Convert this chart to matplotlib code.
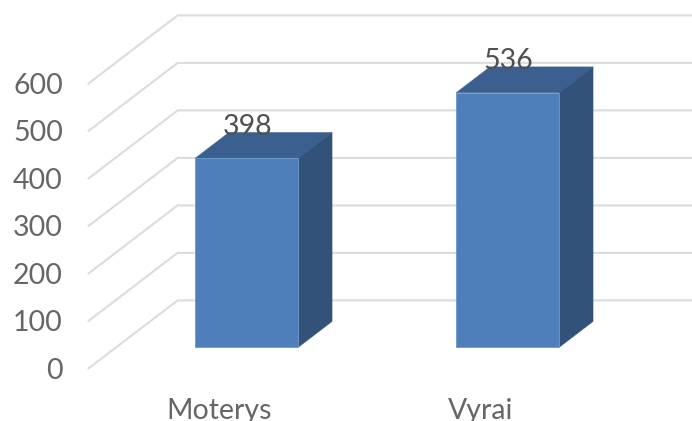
import matplotlib
matplotlib.use("Agg")
import matplotlib.pyplot as plt
import numpy as np

categories = ["Moterys", "Vyrai"]
values = [398, 536]
y_ticks = [0, 100, 200, 300, 400, 500, 600]

W, H = 692, 421
FRONT_COL, TOP_COL, SIDE_COL = "#4E7FBB", "#3B608F", "#325279"
GRID_COL, TICK_COL, LABEL_COL = "#DCDCDC", "#666666", "#505050"
FS = 20.5

# Oblique projection of the floor depth (in category / value units)
DX, DY = 89 / 261, 68 / 0.475
D0, D1 = 0.31, 0.69
BAR_W = 0.395
X_LEFT, X_RIGHT = -0.5, 1.5


def proj(x, y, d):
    return x + d * DX, y + d * DY


plt.rcParams["font.family"] = ["Lato", "DejaVu Sans"]
fig = plt.figure(figsize=(W / 100, H / 100), dpi=100, facecolor="white")
ax = fig.add_axes([88.6 / W, (H - 368.4) / H, 522 / W, 285 / H])
ax.set_xlim(X_LEFT, X_RIGHT)
ax.set_ylim(0, 600)
ax.patch.set_visible(False)
for s in ax.spines.values():
    s.set_visible(False)

# Gridlines: side wall then back wall
for t in y_ticks:
    a = proj(X_LEFT, t, 0)
    b = proj(X_LEFT, t, 1)
    c = proj(X_RIGHT, t, 1)
    ax.plot([a[0], b[0], c[0]], [a[1], b[1], c[1]], color=GRID_COL, lw=1.5,
            clip_on=False, zorder=1, solid_joinstyle="miter")

# Bars
for i, v in enumerate(values):
    xl, xr = i - BAR_W / 2, i + BAR_W / 2
    corners = lambda pts: list(zip(*[proj(*p) for p in pts]))
    top = corners([(xl, v, D0), (xr, v, D0), (xr, v, D1), (xl, v, D1)])
    side = corners([(xr, 0, D0), (xr, 0, D1), (xr, v, D1), (xr, v, D0)])
    front = corners([(xl, 0, D0), (xr, 0, D0), (xr, v, D0), (xl, v, D0)])
    ax.fill(*top, color=TOP_COL, lw=0.3, clip_on=False, zorder=3)
    ax.fill(*side, color=SIDE_COL, lw=0.3, clip_on=False, zorder=3)
    ax.fill(*front, facecolor=FRONT_COL, edgecolor="#6C9AD0", lw=0.6,
            clip_on=False, zorder=4)
    cx, cy = proj(i, v, D0)
    ax.annotate(str(v), (cx, cy), xytext=(0.5, 22.5), textcoords="offset points",
                ha="center", va="center", fontsize=FS, color=LABEL_COL,
                annotation_clip=False, zorder=5)

ax.set_yticks(y_ticks)
ax.set_xticks(range(len(categories)))
ax.set_xticklabels(categories)
ax.tick_params(axis="y", length=0, pad=18.5, labelsize=FS, labelcolor=TICK_COL)
ax.tick_params(axis="x", length=0, pad=21.5, labelsize=FS, labelcolor=TICK_COL)

fig.savefig("out.png", dpi=100, facecolor="white")
